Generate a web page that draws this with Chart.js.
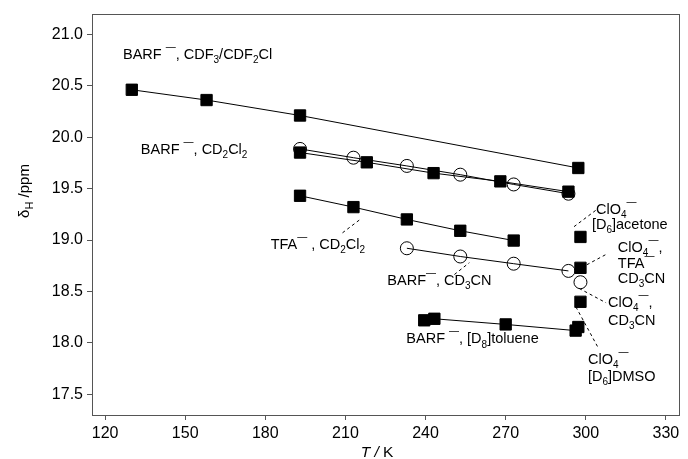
<!DOCTYPE html>
<html>
<head>
<meta charset="utf-8">
<script src="https://cdn.jsdelivr.net/npm/chart.js@4.4.1/dist/chart.umd.min.js"></script>
<style>
  body { margin: 0; background: #fff; }
  #wrap { width: 688px; height: 459px; }
</style>
</head>
<body>
<div id="wrap"><canvas id="mainChart" width="688" height="459"></canvas></div>
<script>
// tick labels
const xTicks = [120, 150, 180, 210, 240, 270, 300, 330];
const yTicks = [17.5, 18.0, 18.5, 19.0, 19.5, 20.0, 20.5, 21.0];

// BARF- in CDF3/CDF2Cl
const cdfT = [130, 158, 193, 297.2];
const cdfShift = [20.46, 20.36, 20.21, 19.70];

// BARF- in CD2Cl2 (two runs)
const cd2cl2SqT = [193, 218, 243, 268, 293.5];
const cd2cl2SqShift = [19.85, 19.755, 19.65, 19.57, 19.47];
const cd2cl2CiT = [193, 213, 233, 253, 273, 293.5];
const cd2cl2CiShift = [19.885, 19.80, 19.72, 19.635, 19.54, 19.45];

// TFA- in CD2Cl2
const tfaT = [193, 213, 233, 253, 273];
const tfaShift = [19.43, 19.32, 19.20, 19.09, 18.995];

// BARF- in CD3CN
const cd3cnT = [233, 253, 273, 293.5];
const cd3cnShift = [18.92, 18.84, 18.77, 18.70];

// BARF- in [D8]toluene
const tolT = [239.5, 243.3, 270, 296.2, 297.2];
const tolShift = [18.22, 18.235, 18.18, 18.12, 18.155];

// single points near 298 K
const singleSqT = [298, 298, 298];
const singleSqShift = [19.03, 18.73, 18.40];  // ClO4- acetone, ClO4-/TFA- CD3CN, ClO4- DMSO
const singleCiT = [298];
const singleCiShift = [18.59];                // ClO4- CD3CN

const FONT = '"Liberation Sans", Arial, sans-serif';
const LABEL_SIZE = 14.5;

// labels: text uses _{sub}, ^{sup}, ~{italic}
const labels = [
    { x: 126.7, y: 20.76, lines: ['BARF ^{—}, CDF_{3}/CDF_{2}Cl'] },
    { x: 133.4, y: 19.84, lines: ['BARF ^{—}, CD_{2}Cl_{2}'] },
    { x: 182.0, y: 18.91, lines: ['TFA^{—} , CD_{2}Cl_{2}'] },
    { x: 225.7, y: 18.56, lines: ['BARF^{—}, CD_{3}CN'] },
    { x: 232.8, y: 17.995, lines: ['BARF ^{—}, [D_{8}]toluene'] },
    { x: 302.3, y: 19.25, lines: [' ClO_{4}^{—}', '[D_{6}]acetone'], gap: 15 },
    { x: 312.0, y: 18.88, lines: ['ClO_{4}^{—},', 'TFA^{—}', 'CD_{3}CN'], gap: 15.5 },
    { x: 308.3, y: 18.35, lines: ['ClO_{4}^{—},', 'CD_{3}CN'], gap: 18 },
    { x: 300.8, y: 17.80, lines: ['ClO_{4}^{—}', '[D_{6}]DMSO'], gap: 17.5 }
];

const leaders = [
    [208.9, 19.07, 216.0, 19.21],
    [250.8, 18.665, 256.4, 18.78],
    [295.6, 19.13, 303.8, 19.29],
    [300.4, 18.76, 308.3, 18.87],
    [297.5, 18.53, 307.6, 18.39],
    [296.3, 18.35, 304.5, 17.96]
];

function pts(xs, ys) {
    return xs.map((x, i) => ({ x: x, y: ys[i] }));
}

function drawRich(ctx, str, x, y, size) {
    const re = /([_^~])\{([^}]*)\}|([^_^~]+)/g;
    let m;
    let cx = x;
    while ((m = re.exec(str)) !== null) {
        let txt, font, dy = 0;
        if (m[3] !== undefined) {
            txt = m[3];
            font = size + 'px ' + FONT;
        } else if (m[1] === '_') {
            txt = m[2];
            font = Math.round(size * 0.7) + 'px ' + FONT;
            dy = size * 0.28;
        } else if (m[1] === '^') {
            txt = m[2];
            font = Math.round(size * 0.7) + 'px ' + FONT;
            dy = -size * 0.62;
        } else {
            txt = m[2];
            font = 'italic ' + size + 'px ' + FONT;
        }
        ctx.font = font;
        ctx.fillText(txt, cx, y + dy);
        cx += ctx.measureText(txt).width;
    }
    return cx - x;
}

function measureRich(ctx, str, size) {
    ctx.save();
    ctx.globalAlpha = 0;
    const w = drawRich(ctx, str, 0, 0, size);
    ctx.restore();
    return w;
}

const decorPlugin = {
    id: 'decor',
    afterDraw(chart) {
        const ctx = chart.ctx;
        const a = chart.chartArea;
        const xs = chart.scales.x;
        const ys = chart.scales.y;
        ctx.save();
        // frame
        ctx.strokeStyle = '#555';
        ctx.lineWidth = 1;
        ctx.strokeRect(Math.round(a.left) + 0.5, Math.round(a.top) + 0.5,
            Math.round(a.right - a.left), Math.round(a.bottom - a.top));

        // leader lines
        ctx.strokeStyle = '#000';
        ctx.setLineDash([3, 3]);
        leaders.forEach(l => {
            ctx.beginPath();
            ctx.moveTo(xs.getPixelForValue(l[0]), ys.getPixelForValue(l[1]));
            ctx.lineTo(xs.getPixelForValue(l[2]), ys.getPixelForValue(l[3]));
            ctx.stroke();
        });
        ctx.setLineDash([]);

        // labels
        ctx.fillStyle = '#000';
        ctx.textBaseline = 'alphabetic';
        ctx.textAlign = 'left';
        labels.forEach(lb => {
            const px = xs.getPixelForValue(lb.x);
            const py = ys.getPixelForValue(lb.y);
            lb.lines.forEach((t, i) => drawRich(ctx, t, px, py + i * (lb.gap || 16), LABEL_SIZE));
        });

        // x title
        const xt = '~{T}~{ / }K';
        const xw = measureRich(ctx, xt, 15.5);
        drawRich(ctx, xt, 377 - xw / 2, 457, 15.5);

        // y title
        ctx.save();
        ctx.translate(29, 191);
        ctx.rotate(-Math.PI / 2);
        const yt = 'δ_{H} /ppm';
        const yw = measureRich(ctx, yt, 15);
        drawRich(ctx, yt, -yw / 2, 0, 15);
        ctx.restore();

        ctx.restore();
    }
};

const sq = { pointStyle: 'rect', pointRadius: 8, pointBackgroundColor: '#000', pointBorderColor: '#000', pointBorderWidth: 1 };
const ci = { pointStyle: 'circle', pointRadius: 6.5, pointBackgroundColor: 'rgba(0,0,0,0)', pointBorderColor: '#000', pointBorderWidth: 1 };
const ln = { showLine: true, borderColor: '#000', borderWidth: 1 };

const ctx = document.getElementById('mainChart').getContext('2d');
const chart = new Chart(ctx, {
    type: 'scatter',
    data: {
        datasets: [
            { label: 'BARF CDF3/CDF2Cl', data: pts(cdfT, cdfShift), ...ln, ...sq },
            { label: 'BARF CD2Cl2 circles', data: pts(cd2cl2CiT, cd2cl2CiShift), ...ln, ...ci },
            { label: 'BARF CD2Cl2 squares', data: pts(cd2cl2SqT, cd2cl2SqShift), ...ln, ...sq },
            { label: 'TFA CD2Cl2', data: pts(tfaT, tfaShift), ...ln, ...sq },
            { label: 'BARF CD3CN', data: pts(cd3cnT, cd3cnShift), ...ln, ...ci },
            { label: 'BARF toluene', data: pts(tolT, tolShift), ...ln, ...sq },
            { label: 'ClO4 squares', data: pts(singleSqT, singleSqShift), showLine: false, ...sq },
            { label: 'ClO4 CD3CN', data: pts(singleCiT, singleCiShift), showLine: false, ...ci }
        ]
    },
    options: {
        responsive: false,
        animation: false,
        layout: { padding: { left: 0, right: 8, top: 13, bottom: 0 } },
        plugins: {
            legend: { display: false },
            tooltip: { enabled: false }
        },
        scales: {
            x: {
                type: 'linear',
                min: 115.1,
                max: 334.9,
                afterBuildTicks: s => { s.ticks = xTicks.map(v => ({ value: v })); },
                afterFit: s => { s.height = 44; },
                border: { display: false },
                grid: { drawOnChartArea: false, tickLength: 5, tickColor: '#555' },
                ticks: { color: '#000', padding: 4, maxRotation: 0, font: { family: FONT, size: 16 } }
            },
            y: {
                type: 'linear',
                min: 17.3,
                max: 21.2,
                afterBuildTicks: s => { s.ticks = yTicks.map(v => ({ value: v })); },
                afterFit: s => { s.width = 92; },
                border: { display: false },
                grid: { drawOnChartArea: false, tickLength: 5, tickColor: '#555' },
                ticks: { color: '#000', padding: 4, font: { family: FONT, size: 16 },
                    callback: v => Number(v).toFixed(1) }
            }
        }
    },
    plugins: [decorPlugin]
});
</script>
</body>
</html>
